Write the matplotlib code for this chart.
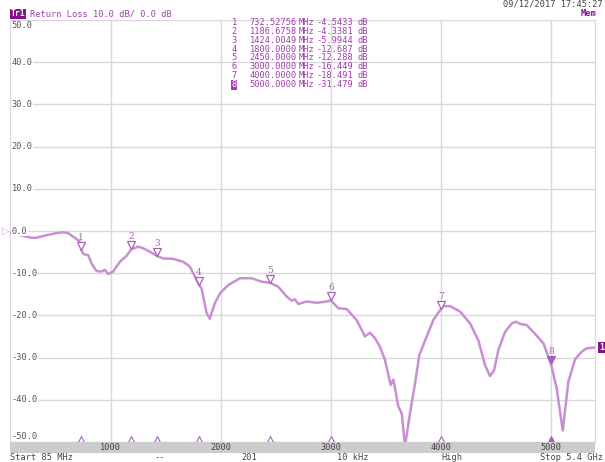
import numpy as np
import matplotlib.pyplot as plt
from matplotlib.transforms import offset_copy

# trace: return loss (dB) vs frequency (MHz)
freq_mhz = [85, 150, 228, 280, 325, 416, 507, 567, 613, 674, 719, 732.5, 755, 795,
            826, 871, 917, 947, 977, 1022, 1083, 1144, 1186.7, 1250, 1295, 1356,
            1424, 1477, 1568, 1659, 1719, 1800, 1825, 1871, 1900, 1946, 1992, 2068,
            2174, 2280, 2371, 2450, 2522, 2598, 2643, 2674, 2704, 2780, 2871, 2962,
            3000, 3067, 3144, 3234, 3310, 3355, 3401, 3446, 3492, 3544, 3568, 3613,
            3644, 3674, 3719, 3765, 3804, 3871, 3931, 4000, 4022, 4083, 4174, 4265,
            4340, 4401, 4446, 4483, 4522, 4583, 4644, 4683, 4719, 4780, 4856, 4931,
            5000, 5052, 5107, 5158, 5219, 5280, 5325, 5400]
loss_db = [-0.4, -0.8, -1.3, -1.6, -1.6, -1.0, -0.5, -0.3, -0.5, -1.6, -2.5, -4.54,
           -5.5, -5.7, -7.7, -9.5, -9.6, -9.2, -10.2, -9.6, -7.3, -5.9, -4.34, -3.7,
           -4.1, -4.9, -5.99, -6.5, -6.6, -7.3, -8.4, -12.69, -13.6, -19.4, -20.8,
           -17.1, -14.8, -12.8, -11.2, -11.2, -12.0, -12.29, -13.2, -15.5, -16.5,
           -16.2, -17.3, -16.7, -17.0, -16.7, -16.45, -18.3, -18.5, -21.1, -25.0,
           -24.1, -25.4, -27.4, -30.6, -36.5, -35.2, -41.6, -43.2, -51.0, -43.2,
           -36.1, -29.4, -25.0, -21.1, -18.49, -17.8, -17.8, -19.1, -21.9, -25.9,
           -31.8, -34.4, -33.0, -28.2, -23.9, -21.9, -21.5, -22.0, -22.3, -24.4,
           -26.6, -31.48, -37.3, -47.3, -35.7, -30.4, -28.6, -27.8, -27.6]

# markers
mk_freq = [732.52756, 1186.6758, 1424.0049, 1800.0, 2450.0, 3000.0, 4000.0, 5000.0]
mk_db = [-4.5433, -4.3381, -5.9944, -12.687, -12.288, -16.449, -18.491, -31.479]
active_marker = 8

y_ticks = [50, 40, 30, 20, 10, 0, -10, -20, -30, -40, -50]
x_ticks = [1000, 2000, 3000, 4000, 5000]
footer = ["Start 85 MHz", "--", "201", "10 kHz", "High", "Stop 5.4 GHz"]

W, H = 605, 462
trace_c = "#c890d2"
mark_c = "#a860b8"
text_c = "#a23cb0"
dark_p = "#86108e"
grid_c = "#d9d9d9"
mono = "DejaVu Sans Mono"

fig = plt.figure(figsize=(W / 100, H / 100), dpi=100)
left, right, top, bot = 10, 595, 20, 442
ax = fig.add_axes([left / W, 1 - bot / H, (right - left) / W, (bot - top) / H])
ax.set_xlim(85, 5400)
ax.set_ylim(-50, 50)
ax.set_xticks(x_ticks)
ax.set_yticks(y_ticks)
ax.grid(True, color=grid_c, lw=1)
ax.tick_params(length=0, labelbottom=False, labelleft=False)
for s in ax.spines.values():
    s.set_color(grid_c)

ax.plot(freq_mhz, loss_db, color=trace_c, lw=1.8, zorder=3)

# y labels drawn inside the grid with white background
for v in y_ticks:
    va = "center"
    dy = 0
    if v == 50:
        va, dy = "top", -1
    if v == -50:
        va, dy = "bottom", 1
    t = ax.annotate(f"{v:.1f}", (85, v), xytext=(1.5, dy), textcoords="offset pixels",
                    ha="left", va=va, fontsize=6.2, family=mono, color="#555555",
                    zorder=5)
    t.set_bbox(dict(facecolor="white", edgecolor="none", pad=0.3))

# marker triangles above the trace, with numbers
tri_off = offset_copy(ax.transData, fig=fig, x=0, y=4, units="dots")
for i, (f, d) in enumerate(zip(mk_freq, mk_db), start=1):
    filled = i == active_marker
    ax.plot([f], [d], marker="v", ms=6, mew=0.9, mec=mark_c,
            mfc=mark_c if filled else "white", transform=tri_off, zorder=6)
    ax.annotate(str(i), (f, d), xytext=(0, 8), textcoords="offset pixels",
                ha="center", va="bottom", fontsize=6.5, family="DejaVu Serif",
                color=mark_c, zorder=6)
    # small marker position on the bottom edge
    ax.plot([f], [-50], marker="^", ms=5, mew=0.8, mec=mark_c,
            mfc=mark_c if filled else "white", clip_on=False,
            transform=offset_copy(ax.transData, fig=fig, x=0, y=3, units="dots"),
            zorder=6)

# gray frequency band below plot
band = fig.add_axes([left / W, 1 - 453 / H, (right - left) / W, 11 / H])
band.set_facecolor("#cccccc")
band.set_xlim(85, 5400)
band.set_xticks([])
band.set_yticks([])
for s in band.spines.values():
    s.set_visible(False)
for xv in x_ticks:
    band.text(xv, 0.5, str(xv), ha="center", va="center", fontsize=6.2,
              family=mono, color="#444444")


def fpos(x, y):
    return x / W, 1 - y / H


# header
fig.text(*fpos(11, 14), "Tr1", fontsize=5.8, family=mono, color="white",
         fontweight="bold", va="center", ha="left",
         bbox=dict(facecolor=dark_p, edgecolor="none", pad=0.6))
fig.text(*fpos(30, 14), "Return Loss 10.0 dB/ 0.0 dB", fontsize=6.2, family=mono,
         color=text_c, va="center", ha="left")
fig.text(*fpos(603, 4), "09/12/2017 17:45:27", fontsize=6.2, family=mono,
         color="#444444", va="center", ha="right")
fig.text(*fpos(596, 14), "Mem", fontsize=6.2, family=mono, color=dark_p,
         fontweight="bold", va="center", ha="right")

# marker table
for i, (f, d) in enumerate(zip(mk_freq, mk_db), start=1):
    y = 22.5 + (i - 1) * 8.86
    kw = dict(fontsize=6.2, family=mono, color=text_c, va="center")
    if i == active_marker:
        fig.text(*fpos(231.5, y), str(i), ha="left", fontsize=6.2, family=mono,
                 color="white", va="center",
                 bbox=dict(facecolor=text_c, edgecolor="none", pad=0.4))
    else:
        fig.text(*fpos(231.5, y), str(i), ha="left", **kw)
    ftxt = f"{f:.5f}" if f < 1000 else f"{f:.4f}"
    fig.text(*fpos(297, y), ftxt, ha="right", **kw)
    fig.text(*fpos(299, y), "MHz", ha="left", **kw)
    dtxt = f"{d:.4f}" if d > -10 else f"{d:.3f}"
    fig.text(*fpos(316, y), dtxt, ha="left", **kw)
    fig.text(*fpos(357, y), "dB", ha="left", **kw)

# reference position arrow and trace end badge
fig.text(*fpos(2, 231), "\u25B7", fontsize=7, color="#d4a8dc", va="center", ha="left")
end_y = 1 - (bot - (loss_db[-1] + 50) / 100 * (bot - top)) / H
fig.text(599 / W, end_y, "1", fontsize=6, family=mono, color="white",
         fontweight="bold", va="center", ha="left",
         bbox=dict(facecolor=dark_p, edgecolor="none", pad=0.5))

# footer
foot_x = [10, 155, 241, 337, 441, 603]
for x, s in zip(foot_x, footer):
    fig.text(*fpos(x, 458), s, fontsize=6.2, family=mono, color="#444444",
             va="center", ha="right" if x > 600 else "left")

fig.savefig("out.png", dpi=100)
